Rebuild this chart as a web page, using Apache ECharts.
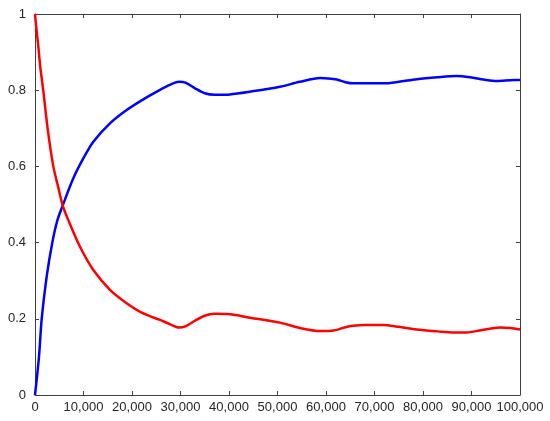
<!DOCTYPE html>
<html>
<head>
<meta charset="utf-8">
<script src="https://cdn.jsdelivr.net/npm/echarts@6/dist/echarts.min.js"></script>
<style>
  html, body { margin: 0; padding: 0; background: #fff; }
  #chart { width: 550px; height: 421px; }
</style>
</head>
<body>
<div id="chart"></div>
<script>
// red curve (falling)
var redX = [0, 300, 620, 1100, 1700, 2600, 3780, 4800, 5700, 6870, 9280, 12030, 15460, 18900, 22330, 25770, 27800, 29700, 31000, 33000, 35000, 37000, 40200, 44300, 50500, 54600, 58800, 60500, 62200, 64000, 65600, 68000, 71800, 75000, 78700, 83000, 86300, 89000, 92000, 95900, 98000, 100000];
var redY = [1.0, 0.96, 0.923, 0.86, 0.8, 0.7, 0.6, 0.545, 0.498, 0.459, 0.389, 0.328, 0.276, 0.241, 0.214, 0.197, 0.186, 0.177, 0.18, 0.195, 0.208, 0.213, 0.212, 0.203, 0.19, 0.176, 0.168, 0.168, 0.171, 0.178, 0.182, 0.184, 0.184, 0.179, 0.172, 0.167, 0.164, 0.164, 0.17, 0.177, 0.176, 0.172];

// blue curve (rising)
var blueX = [0, 820, 1380, 2400, 3570, 4600, 5700, 7900, 9960, 12030, 15460, 18900, 22330, 25770, 27800, 29700, 31000, 33000, 35000, 37000, 40200, 44300, 50500, 54600, 58800, 60500, 62200, 64000, 65600, 71800, 75000, 78700, 83000, 86900, 89700, 92500, 95200, 98000, 100000];
var blueY = [0, 0.1, 0.2, 0.31, 0.4, 0.458, 0.497, 0.569, 0.621, 0.665, 0.713, 0.748, 0.776, 0.801, 0.814, 0.822, 0.82, 0.805, 0.792, 0.788, 0.789, 0.796, 0.809, 0.822, 0.832, 0.831, 0.828, 0.821, 0.818, 0.818, 0.822, 0.829, 0.834, 0.837, 0.834, 0.828, 0.824, 0.826, 0.827];

var zip = function (xs, ys) {
  var out = [];
  for (var i = 0; i < xs.length; i++) out.push([xs[i], ys[i]]);
  return out;
};

var axisColor = "#404040";
var font = "Liberation Sans, Arial, sans-serif";

var myChart = echarts.init(document.getElementById("chart"));

// box-style axes: bottom/left carry labels, top/right only line + ticks
var boxAxis = function (pos, isX, labels) {
  var ax = {
    type: "value",
    position: pos,
    axisLine: { show: true, onZero: false, lineStyle: { color: axisColor, width: 1 } },
    axisTick: { show: true, inside: true, length: 4, lineStyle: { color: axisColor } },
    splitLine: { show: false },
    axisLabel: { show: labels, color: "#262626", fontFamily: font, fontSize: 13 }
  };
  if (isX) {
    ax.min = 0; ax.max = 100000; ax.interval = 10000;
    ax.axisLabel.margin = 6;
    ax.axisLabel.formatter = function (v) { return v.toLocaleString("en-US"); };
  } else {
    ax.min = 0; ax.max = 1; ax.interval = 0.2;
    ax.axisLabel.margin = 9;
  }
  return ax;
};

var option = {
  animation: false,
  grid: { left: 35, right: 30, top: 14, bottom: 26, containLabel: false },
  xAxis: [boxAxis("bottom", true, true), boxAxis("top", true, false)],
  yAxis: [boxAxis("left", false, true), boxAxis("right", false, false)],
  series: [
    {
      type: "line",
      data: zip(blueX, blueY),
      showSymbol: false,
      smooth: 0.3,
      color: "#0000ff",
      lineStyle: { width: 2.5, color: "#0000ff" }
    },
    {
      type: "line",
      data: zip(redX, redY),
      showSymbol: false,
      smooth: 0.3,
      color: "#ff0000",
      lineStyle: { width: 2.5, color: "#ff0000" }
    }
  ]
};
myChart.setOption(option);
</script>
</body>
</html>
